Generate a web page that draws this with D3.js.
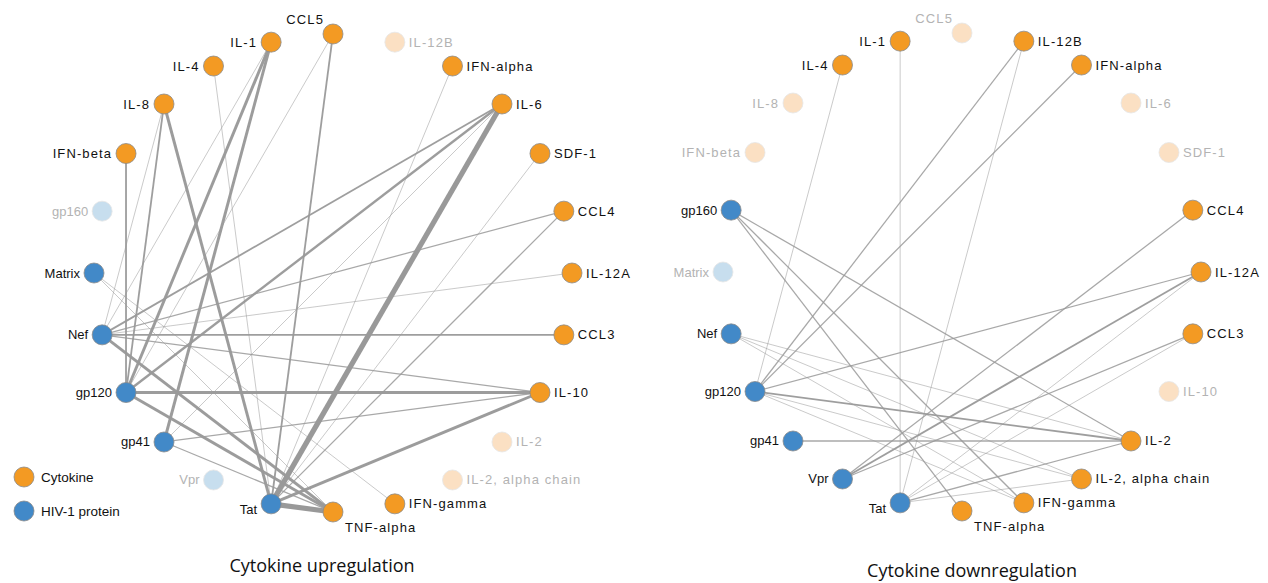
<!DOCTYPE html>
<html>
<head>
<meta charset="utf-8">
<script src="https://cdn.jsdelivr.net/npm/d3@7/dist/d3.min.js"></script>
<style>
    body { margin: 0; background: #fff; }
    svg text { font-family: "Liberation Sans", Arial, Helvetica, sans-serif; }
</style>
</head>
<body>
<div id="chart"></div>
<script>
"use strict";

// nodes in ring order, clockwise starting from the top
var nodeNames = ["CCL5", "IL-12B", "IFN-alpha", "IL-6", "SDF-1", "CCL4", "IL-12A", "CCL3",
    "IL-10", "IL-2", "IL-2, alpha chain", "IFN-gamma", "TNF-alpha", "Tat", "Vpr", "gp41",
    "gp120", "Nef", "Matrix", "gp160", "IFN-beta", "IL-8", "IL-4", "IL-1"];
var proteins = ["Tat", "Vpr", "gp41", "gp120", "Nef", "Matrix", "gp160"];

// [cytokine, protein, strength]
var upEdges = [
    ["IFN-beta", "gp120", 2],
    ["IL-8", "Nef", 1],
    ["IL-8", "gp120", 2],
    ["IL-8", "Tat", 3],
    ["IL-4", "Tat", 1],
    ["IL-1", "Nef", 1],
    ["IL-1", "gp120", 3],
    ["IL-1", "gp41", 3],
    ["CCL5", "gp120", 1],
    ["CCL5", "Tat", 2],
    ["IFN-alpha", "Tat", 1],
    ["IL-6", "Nef", 2],
    ["IL-6", "gp120", 2.5],
    ["IL-6", "gp41", 1],
    ["IL-6", "Tat", 5],
    ["SDF-1", "Tat", 1],
    ["CCL4", "Nef", 1.5],
    ["CCL4", "Tat", 1.5],
    ["IL-12A", "Nef", 1],
    ["CCL3", "Nef", 2],
    ["IL-10", "Nef", 1.5],
    ["IL-10", "gp120", 3],
    ["IL-10", "gp41", 1.5],
    ["IL-10", "Tat", 3],
    ["IFN-gamma", "Matrix", 1],
    ["TNF-alpha", "Matrix", 1],
    ["TNF-alpha", "Nef", 3],
    ["TNF-alpha", "gp120", 3],
    ["TNF-alpha", "gp41", 1.5],
    ["TNF-alpha", "Tat", 5]
];

var downEdges = [
    ["IL-4", "gp120", 1],
    ["IL-1", "Tat", 1],
    ["IL-12B", "gp120", 1.5],
    ["IL-12B", "Tat", 1],
    ["IFN-alpha", "gp120", 1.5],
    ["CCL4", "Vpr", 1.5],
    ["IL-12A", "gp120", 1.5],
    ["IL-12A", "Vpr", 2],
    ["IL-12A", "Tat", 1],
    ["CCL3", "Vpr", 1.5],
    ["CCL3", "Tat", 1],
    ["IL-2", "gp160", 1.5],
    ["IL-2", "Nef", 1],
    ["IL-2", "gp120", 2],
    ["IL-2", "gp41", 1.5],
    ["IL-2", "Tat", 1.5],
    ["IL-2, alpha chain", "Nef", 1],
    ["IL-2, alpha chain", "gp120", 1],
    ["IL-2, alpha chain", "Tat", 1],
    ["IFN-gamma", "gp160", 1.5],
    ["IFN-gamma", "Nef", 1],
    ["IFN-gamma", "gp120", 1],
    ["TNF-alpha", "gp160", 1.5]
];

var panelTitles = ["Cytokine upregulation", "Cytokine downregulation"];
var legendLabels = ["Cytokine", "HIV-1 protein"];

var width = 1268, height = 583;
var colCytokine = "#f39a23", colProtein = "#4289c8";
var colCytokineFaded = "#fbe0c3", colProteinFaded = "#c7deee";
var nodeR = 10;

var svg = d3.select("#chart").append("svg")
    .attr("width", width)
    .attr("height", height);

var angle = d3.scaleLinear()
    .domain([0, nodeNames.length])
    .range([-Math.PI / 2, Math.PI * 1.5]);
var strokeW = d3.scaleLinear().domain([1, 5]).range([0.7, 5.2]);
var strokeOp = d3.scaleLinear().domain([1, 2, 5]).range([0.75, 0.95, 1]).clamp(true);

function isProtein(name) {
    return proteins.indexOf(name) !== -1;
}

/**draws one ring network*/
function drawPanel(cx, cy, radius, edges, title, titleX, titleY) {
    var g = svg.append("g");
    var pos = {};
    var active = {};
    nodeNames.forEach(function (n, i) {
        var a = angle(i);
        pos[n] = { x: cx + radius * Math.cos(a), y: cy + radius * Math.sin(a), a: a };
    });
    edges.forEach(function (e) { active[e[0]] = true; active[e[1]] = true; });

    // thin lines first so the heavy ones sit on top
    var sorted = edges.slice().sort(function (a, b) { return a[2] - b[2]; });
    g.selectAll("line.edge")
        .data(sorted)
        .enter().append("line")
        .attr("class", "edge")
        .attr("x1", function (d) { return pos[d[0]].x; })
        .attr("y1", function (d) { return pos[d[0]].y; })
        .attr("x2", function (d) { return pos[d[1]].x; })
        .attr("y2", function (d) { return pos[d[1]].y; })
        .attr("stroke", "#999")
        .attr("stroke-opacity", function (d) { return strokeOp(d[2]); })
        .attr("stroke-width", function (d) { return strokeW(d[2]); });

    var nodes = g.selectAll("g.node")
        .data(nodeNames)
        .enter().append("g")
        .attr("class", "node")
        .attr("transform", function (d) { return "translate(" + pos[d].x + "," + pos[d].y + ")"; });

    nodes.append("circle")
        .attr("r", nodeR)
        .attr("fill", function (d) {
            if (isProtein(d)) return active[d] ? colProtein : colProteinFaded;
            return active[d] ? colCytokine : colCytokineFaded;
        })
        .attr("stroke", function (d) { return active[d] ? "#8a8a8a" : "#e6e6e6"; })
        .attr("stroke-width", 0.8);

    nodes.append("text")
        .attr("x", function (d) {
            var c = Math.cos(pos[d].a);
            if (Math.abs(c) < 0.01) return Math.sin(pos[d].a) < 0 ? -9 : 12;
            return c > 0 ? 14 : -14;
        })
        .attr("y", function (d) {
            var c = Math.cos(pos[d].a), s = Math.sin(pos[d].a);
            if (Math.abs(c) < 0.01) return s < 0 ? -10.5 : 19.5;
            if (c < 0 && s > 0.9) return 10.5; // Tat sits a bit low
            return 4.5;
        })
        .attr("text-anchor", function (d) {
            var c = Math.cos(pos[d].a);
            if (Math.abs(c) < 0.01) return Math.sin(pos[d].a) < 0 ? "end" : "start";
            return c > 0 ? "start" : "end";
        })
        .attr("font-size", 13)
        .attr("letter-spacing", function (d) { return isProtein(d) ? 0 : 1.1; })
        .attr("fill", function (d) { return active[d] ? "#111" : "#b3b3b3"; })
        .text(function (d) { return d; });

    g.append("text")
        .attr("x", titleX)
        .attr("y", titleY)
        .attr("text-anchor", "middle")
        .attr("font-size", 18)
        .style("font-family", "'Open Sans', 'Noto Sans', sans-serif")
        .attr("fill", "#111")
        .text(title);
}

drawPanel(333, 273, 239, upEdges, panelTitles[0], 322, 572);
drawPanel(962, 272, 239, downEdges, panelTitles[1], 972, 577);

// legend
var legend = svg.append("g").attr("transform", "translate(24,477)");
var items = legend.selectAll("g")
    .data(legendLabels)
    .enter().append("g")
    .attr("transform", function (d, i) { return "translate(0," + i * 34 + ")"; });
items.append("circle")
    .attr("r", nodeR)
    .attr("fill", function (d, i) { return i === 0 ? colCytokine : colProtein; })
    .attr("stroke", "#8a8a8a")
    .attr("stroke-width", 0.8);
items.append("text")
    .attr("x", 17)
    .attr("y", 5)
    .attr("font-size", 13.5)
    .attr("fill", "#111")
    .text(function (d) { return d; });
</script>
</body>
</html>
